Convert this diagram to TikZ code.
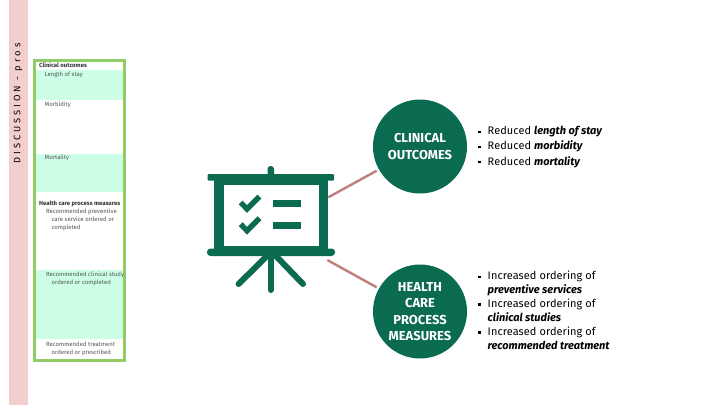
\documentclass[tikz,border=0pt]{standalone}
\usepackage{fontspec}
\setmainfont{Fira Sans}
\definecolor{dgreen}{HTML}{0B6B50}
\definecolor{pinkband}{HTML}{F2CFCD}
\definecolor{boxgreen}{HTML}{92CC64}
\definecolor{mint}{HTML}{CCFFE6}
\definecolor{linkc}{HTML}{BF7F7D}
\definecolor{smallc}{HTML}{555555}
\tikzset{
  circ/.style={circle,fill=dgreen,minimum size=94bp,inner sep=0pt,text=white,align=center,font=\fontsize{13}{16.5}\selectfont\bfseries},
  iconline/.style={draw=dgreen,line width=6bp,line cap=round},
  iconbar/.style={fill=dgreen},
  tick/.style={draw=dgreen,line width=5.4bp},
  link/.style={draw=linkc,line width=2.4bp},
  bullets/.style={anchor=north west,align=left,inner sep=0pt,font=\fontsize{11}{15.2}\selectfont},
  bulletstight/.style={anchor=north west,align=left,inner sep=0pt,font=\fontsize{11}{13.9}\selectfont},
  headtxt/.style={anchor=west,inner sep=0pt,font=\fontsize{6}{7}\selectfont\bfseries,text=black!80},
  subtxt/.style={anchor=north west,align=left,inner sep=0pt,font=\fontsize{6}{7.9}\selectfont,text=smallc},
}
\newcommand{\bul}{\makebox[9.5bp][l]{\raisebox{1.8bp}{\rule{2.4bp}{2.4bp}}}}
\newcommand{\spc}{\addfontfeatures{LetterSpace=0.8}}
\begin{document}
\begin{tikzpicture}[x=1bp,y=-1bp]
\useasboundingbox (0,0) rectangle (720,405);
\fill[white] (0,0) rectangle (720,405);
% left band
\fill[pinkband] (9,0) rectangle (28,405);
\node[rotate=90,inner sep=0pt,font=\fontsize{9.4}{10}\selectfont] (side) at (18,103.5) {\addfontfeatures{LetterSpace=32}DISCUSSION - pros};
% table
\fill[mint] (35,69.5) rectangle (124,99.5);
\fill[mint] (35,153.5) rectangle (124,191.5);
\fill[mint] (35,270) rectangle (124,338.5);
\draw[boxgreen,line width=2.8bp] (34.7,60.7) rectangle (124.8,360.5);
\node[headtxt] (h1) at (39,65) {Clinical outcomes};
\node[subtxt] (s1) at (44.5,71.5) {Length of stay};
\node[subtxt] (s2) at (44.5,101.5) {Morbidity};
\node[subtxt] (s3) at (44.5,155) {Mortality};
\node[headtxt] (h2) at (39,204) {Health care process measures};
\node[subtxt] (s4) at (46,209) {Recommended preventive\\\hspace*{5.5bp}care service ordered or\\\hspace*{5.5bp}completed};
\node[subtxt] (s5) at (46,271.5) {Recommended clinical study\\\hspace*{5.5bp}ordered or completed};
\node[subtxt] (s6) at (46,341.5) {Recommended treatment\\\hspace*{5.5bp}ordered or prescribed};
% icon
\fill[iconbar,rounded corners=1bp] (207.5,174) rectangle (334,180.5);
\fill[iconbar] (214.3,176) rectangle (328.3,185);
\fill[iconbar] (214.3,176) rectangle (224.3,250);
\fill[iconbar] (319,176) rectangle (328.3,250);
\fill[iconbar] (214.3,246) rectangle (328.3,252);
\fill[iconbar,rounded corners=3.5bp] (207,248.5) rectangle (335,256);
\fill[iconbar,rounded corners=3bp] (267.5,166) rectangle (274,178);
\draw[iconline] (270.7,254) -- (270.7,290);
\draw[iconline] (267,256) -- (238.6,284);
\draw[iconline] (276,256) -- (303,284);
\draw[tick] (240.7,202.5) -- (247,209) -- (259.5,196.5);
\draw[tick] (240.7,224.2) -- (247,230.7) -- (259.5,218.2);
\fill[iconbar] (273,200) rectangle (301,207.3);
\fill[iconbar] (273,221.7) rectangle (301,229);
\coordinate (iconA) at (328.3,197.3);
\coordinate (iconB) at (327.3,260);
% circles
\node[circ] (co) at (420,146.5) {CLINICAL\\OUTCOMES};
\node[circ] (hc) at (420,311.5) {HEALTH\\CARE\\PROCESS\\MEASURES};
\coordinate (coEnd) at (376.7,170.7);
\coordinate (hcEnd) at (376.7,287.3);
\draw[link] (iconA) -- (coEnd);
\draw[link] (iconB) -- (hcEnd);
% bullets
\node[bullets] (b1) at (478,126.2) {\bul{\spc Reduced }\textbf{\textit{length of stay}}\\\bul{\spc Reduced }\textbf{\textit{morbidity}}\\\bul{\spc Reduced }\textbf{\textit{mortality}}};
\node[bulletstight] (b2) at (478,271.2) {\bul{\spc Increased ordering of}\\\hspace*{9.5bp}\textbf{\textit{preventive services}}\\\bul{\spc Increased ordering of}\\\hspace*{9.5bp}\textbf{\textit{clinical studies}}\\\bul{\spc Increased ordering of}\\\hspace*{9.5bp}\textbf{\textit{recommended treatment}}};
\end{tikzpicture}
\end{document}
